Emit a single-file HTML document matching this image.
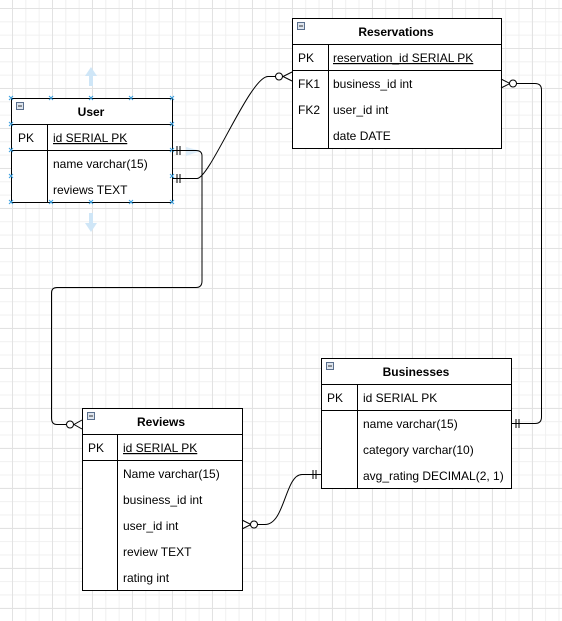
<!DOCTYPE html>
<html><head><meta charset="utf-8"><style>
html,body{margin:0;padding:0;}
body{width:562px;height:621px;overflow:hidden;background:#fff;
background-image:
linear-gradient(#e2e2e2 1px,transparent 1px),linear-gradient(90deg,#e2e2e2 1px,transparent 1px),
linear-gradient(#f0f0f0 1px,transparent 1px),linear-gradient(90deg,#f0f0f0 1px,transparent 1px);
background-size:40px 40px,40px 40px,13.333px 13.333px,13.333px 13.333px;
background-position:12px 8px,12px 8px,12px 8px,12px 8px;
font-family:"Liberation Sans",Arial,sans-serif;}
svg{position:absolute;left:0;top:0;}
text{font-family:"Liberation Sans",Arial,sans-serif;font-size:12px;fill:#000;}
.h{font-weight:bold;text-anchor:middle;}
</style></head><body>
<svg width="562" height="621" viewBox="0 0 562 621">
<g fill="#fff" stroke="#000" stroke-width="1">
<!-- User -->
<rect x="11.5" y="98.5" width="161" height="104"/>
<line x1="11.5" y1="124.5" x2="172.5" y2="124.5"/>
<line x1="11.5" y1="150.5" x2="172.5" y2="150.5"/>
<line x1="47.5" y1="124.5" x2="47.5" y2="202.5"/>
<!-- Reservations -->
<rect x="292.5" y="18.5" width="209" height="130"/>
<line x1="292.5" y1="44.5" x2="501.5" y2="44.5"/>
<line x1="292.5" y1="70.5" x2="501.5" y2="70.5"/>
<line x1="328.5" y1="44.5" x2="328.5" y2="148.5"/>
<!-- Businesses -->
<rect x="321.5" y="358.5" width="190" height="130"/>
<line x1="321.5" y1="384.5" x2="511.5" y2="384.5"/>
<line x1="321.5" y1="410.5" x2="511.5" y2="410.5"/>
<line x1="357.5" y1="384.5" x2="357.5" y2="488.5"/>
<!-- Reviews -->
<rect x="82.5" y="408.5" width="160" height="182"/>
<line x1="82.5" y1="434.5" x2="242.5" y2="434.5"/>
<line x1="82.5" y1="460.5" x2="242.5" y2="460.5"/>
<line x1="117.5" y1="434.5" x2="117.5" y2="590.5"/>
</g>
<!-- collapse icons -->
<g fill="#dde4ee" stroke="#5a6f8c" stroke-width="1">
<rect x="16.5" y="102.5" width="7" height="7"/><rect x="297.5" y="22.5" width="7" height="7"/>
<rect x="326.5" y="362.5" width="7" height="7"/><rect x="87.5" y="412.5" width="7" height="7"/>
</g>
<g stroke="#333" stroke-width="1"><line x1="18" y1="106" x2="22" y2="106"/><line x1="299" y1="26" x2="303" y2="26"/><line x1="328" y1="366" x2="332" y2="366"/><line x1="89" y1="416" x2="93" y2="416"/></g>
<!-- texts -->
<text class="h" x="91" y="116">User</text>
<text x="18" y="142">PK</text><text x="53" y="142" text-decoration="underline">id SERIAL PK</text>
<text x="53" y="168">name varchar(15)</text><text x="53" y="194">reviews TEXT</text>
<text class="h" x="396" y="36">Reservations</text>
<text x="298" y="62">PK</text><text x="333" y="62" text-decoration="underline">reservation_id SERIAL PK</text>
<text x="298" y="88">FK1</text><text x="333" y="88">business_id int</text>
<text x="298" y="114">FK2</text><text x="333" y="114">user_id int</text>
<text x="333" y="140">date DATE</text>
<text class="h" x="416" y="376">Businesses</text>
<text x="327" y="402">PK</text><text x="363" y="402">id SERIAL PK</text>
<text x="363" y="428">name varchar(15)</text><text x="363" y="454">category varchar(10)</text>
<text x="363" y="480">avg_rating DECIMAL(2, 1)</text>
<text class="h" x="161" y="426">Reviews</text>
<text x="88" y="452">PK</text><text x="123" y="452" text-decoration="underline">id SERIAL PK</text>
<text x="123" y="478">Name varchar(15)</text><text x="123" y="504">business_id int</text>
<text x="123" y="530">user_id int</text><text x="123" y="556">review TEXT</text><text x="123" y="582">rating int</text>
<!-- selection handles / arrows -->
<g fill="#cfe6f7"><path d="M91 67 L85 76 L89 76 L89 86 L93 86 L93 76 L97 76Z"/><path d="M91 232 L85 223 L89 223 L89 213 L93 213 L93 223 L97 223Z"/><path d="M186 147 L201 151 L186 156Z" opacity=".7"/></g>
<g stroke="#3ba0e0" stroke-width="1">
<path d="M9 96l4 4M13 96l-4 4M49 96l4 4M53 96l-4 4M89 96l4 4M93 96l-4 4M129 96l4 4M133 96l-4 4M170 96l4 4M174 96l-4 4M9 122l4 4M13 122l-4 4M170 122l4 4M174 122l-4 4M9 148l4 4M13 148l-4 4M170 148l4 4M174 148l-4 4M9 174l4 4M13 174l-4 4M170 174l4 4M174 174l-4 4M9 200l4 4M13 200l-4 4M49 200l4 4M53 200l-4 4M89 200l4 4M93 200l-4 4M129 200l4 4M133 200l-4 4M170 200l4 4M174 200l-4 4"/>
</g>
<!-- connectors -->
<g fill="none" stroke="#000" stroke-width="1">
<path d="M172 150.5 H196 Q202 150.5 202 156 V281 Q202 287.5 196 287.5 H57 Q51.5 287.5 51.5 293 V418 Q51.5 424.5 57 424.5 H66"/>
<circle cx="70" cy="424.5" r="3.5" fill="#fff"/>
<path d="M82 420 L74 424.5 L82 429"/>
<path d="M177 146v9M180 146v9"/>
<path d="M172 178.5 H197 C210 178.5 250 76.5 268 76.5 H276"/>
<circle cx="279" cy="76.5" r="3.5" fill="#fff"/>
<path d="M292 72 L283 76.5 L292 81"/>
<path d="M177 174v9M180 174v9"/>
<path d="M501 79 L510 83.5 L501 88"/>
<circle cx="513" cy="83.5" r="3.5" fill="#fff"/>
<path d="M516.5 83.5 H535 Q541.5 83.5 541.5 90 V417 Q541.5 423.5 535 423.5 H511"/>
<path d="M516 419v9M519 419v9"/>
<path d="M242 520 L251 524.5 L242 529"/>
<circle cx="254" cy="524.5" r="3.5" fill="#fff"/>
<path d="M257.5 524.5 H265 C285 524.5 285 474.5 302 474.5 H321"/>
<path d="M313 470v9M316 470v9"/>
</g>
</svg>
</body></html>
